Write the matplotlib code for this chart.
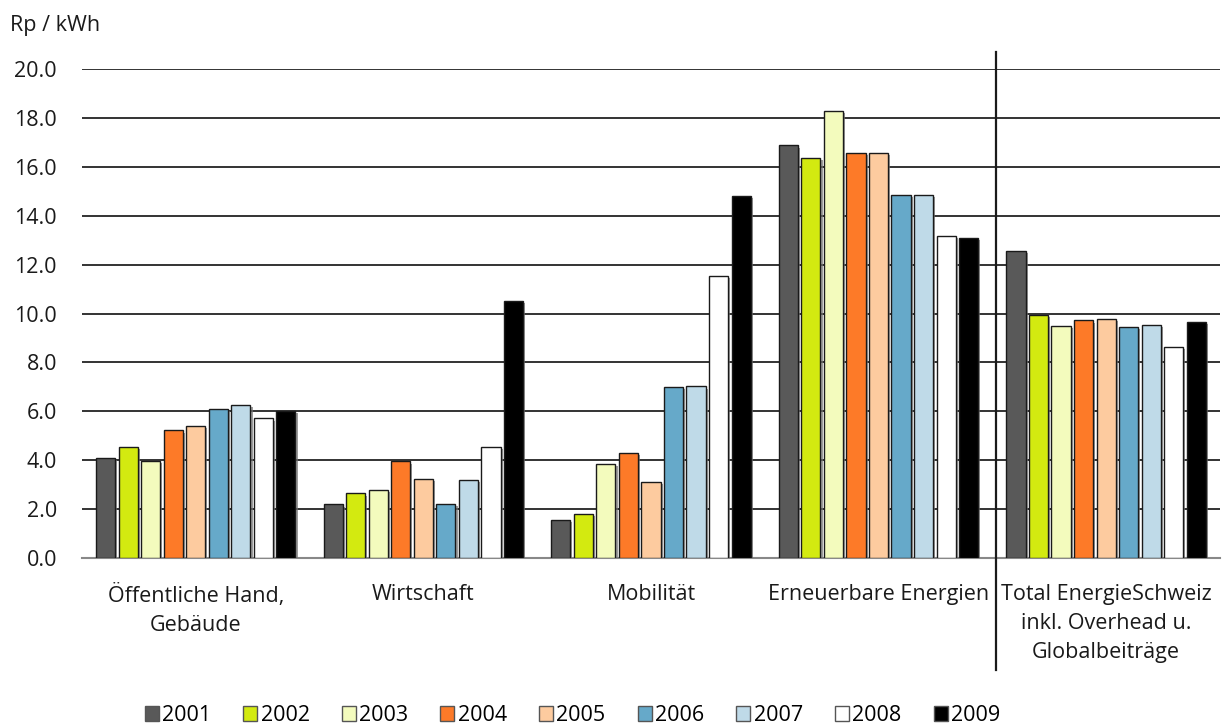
import matplotlib.pyplot as plt
import matplotlib.patheffects as pe
import numpy as np

plt.rcParams['font.family'] = ['Open Sans', 'DejaVu Sans']

categories = ['Öffentliche Hand,\nGebäude', 'Wirtschaft', 'Mobilität',
              'Erneuerbare Energien',
              'Total EnergieSchweiz\ninkl. Overhead u.\nGlobalbeiträge']
years = ['2001', '2002', '2003', '2004', '2005', '2006', '2007', '2008', '2009']

# Rp / kWh per programme area, one list per year
values = {
    '2001': [4.10, 2.19, 1.54, 16.88, 12.58],
    '2002': [4.53, 2.64, 1.79, 16.35, 9.93],
    '2003': [3.97, 2.77, 3.86, 18.30, 9.48],
    '2004': [5.22, 3.95, 4.31, 16.59, 9.72],
    '2005': [5.40, 3.22, 3.10, 16.59, 9.79],
    '2006': [6.08, 2.21, 6.98, 14.87, 9.44],
    '2007': [6.28, 3.20, 7.02, 14.87, 9.55],
    '2008': [5.71, 4.53, 11.55, 13.16, 8.62],
    '2009': [6.03, 10.52, 14.83, 13.10, 9.64],
}
colors = ['#595959', '#d3ea10', '#f3fbbd', '#fd7a28', '#fdcb9f',
          '#66a9c9', '#bfdae8', '#ffffff', '#000000']

fs = 15.5

fig = plt.figure(figsize=(12.26, 7.28), dpi=100)
ax = fig.add_axes([0.0669, 0.2335, 0.9281, 0.6715])

x = np.arange(len(categories))
pitch = 0.099
width = 0.084
shadow = [pe.SimplePatchShadow(offset=(1.5, -1.5), shadow_rgbFace='0.45', alpha=0.7), pe.Normal()]
for i, (yr, col) in enumerate(zip(years, colors)):
    bars = ax.bar(x + (i - 4) * pitch, values[yr], width, color=col,
                  edgecolor='#1a1a1a', linewidth=1.0, label=yr, zorder=3)
    for b in bars:
        b.set_path_effects(shadow)

ax.set_xlim(-0.5, len(categories) - 0.5)
ax.set_ylim(0, 20)
ax.set_yticks(np.arange(0, 20.1, 2))
ax.set_yticklabels(['{:.1f}'.format(v) for v in np.arange(0, 20.1, 2)])
ax.yaxis.grid(True, color='#333333', linewidth=1.4, zorder=0)
ax.set_axisbelow(True)
ax.tick_params(axis='y', length=0, pad=18, labelsize=fs, colors='#1a1a1a')
ax.tick_params(axis='x', length=0, pad=19, labelsize=fs, colors='#1a1a1a')
ax.set_xticks(x)
ax.set_xticklabels(categories, linespacing=1.5, va='top')
for s in ['left', 'right', 'top']:
    ax.spines[s].set_visible(False)
ax.spines['bottom'].set_color('#888888')
ax.spines['bottom'].set_linewidth(1.5)

# separator between the programme areas and the overall total
ax.axvline(3.516, ymin=-0.229, ymax=1.035, color='#1a1a1a', linewidth=1.6,
           clip_on=False, zorder=4)

fig.text(0.008, 0.965, 'Rp / kWh', fontsize=fs, color='#1a1a1a', va='center')

leg = fig.legend(loc='center', bbox_to_anchor=(0.467, 0.017), ncol=9, frameon=False,
                 fontsize=fs, handlelength=0.65, handleheight=0.65,
                 handletextpad=0.15, columnspacing=1.5)
for h in leg.legend_handles:
    h.set_path_effects([])
    h.set_edgecolor('#555555')

fig.savefig('out.png', dpi=100)
